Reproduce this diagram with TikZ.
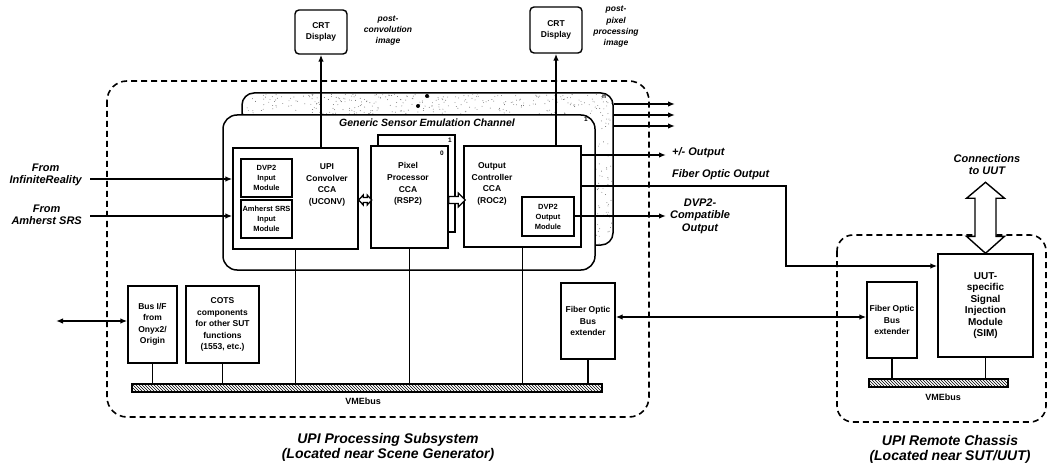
\documentclass[tikz,border=0pt]{standalone}
\usepackage{fontspec}
\setmainfont{Liberation Sans}
\usetikzlibrary{arrows.meta,patterns}
\begin{document}
\begin{tikzpicture}[x=1pt,y=-1pt,
  box/.style={draw, line width=1.4pt, fill=white, inner sep=0pt, align=center,
    font=\bfseries\fontsize{8.5}{11.5}\selectfont},
  sbox/.style={box, line width=1.2pt, font=\bfseries\fontsize{7.5}{10}\selectfont},
  txt/.style={inner sep=0pt, align=center, font=\bfseries\fontsize{8.5}{11.7}\selectfont},
  lbl/.style={inner sep=0pt, align=center, font=\bfseries\itshape\fontsize{11}{12}\selectfont},
  ttl/.style={inner sep=0pt, align=center, font=\bfseries\itshape\fontsize{14}{15}\selectfont},
  digit/.style={inner sep=0pt, font=\bfseries\fontsize{6.5}{7}\selectfont},
  card/.style={draw, line width=1.5pt, fill=white, inner sep=0pt},
  conn/.style={line width=1.6pt},
  arr/.style={conn, -{Latex[length=7pt,width=5.5pt]}},
  darr/.style={conn, {Latex[length=7pt,width=5.5pt]}-{Latex[length=7pt,width=5.5pt]}},
  dbox/.style={dash pattern=on 6pt off 4pt, line width=1.6pt},
  bus/.style={draw, line width=1.3pt, pattern=north west lines, inner sep=0pt},
  hollow/.style={line width=1.2pt, fill=white}
]
\useasboundingbox (0,0) rectangle (1049,465);

% outer dashed subsystem boxes
\draw[dbox, rounded corners=20pt] (107,81) rectangle (649,417);
\draw[dbox, rounded corners=16pt] (837,235) rectangle (1046,422);

% CRT displays
\node[box, minimum width=52pt, minimum height=44pt, rounded corners=4pt] (crt1) at (321,32) {CRT\\Display};
\node[box, minimum width=52pt, minimum height=46pt, rounded corners=4pt] (crt2) at (556,30) {CRT\\Display};
\node[lbl, font=\bfseries\itshape\fontsize{8.5}{11}\selectfont] (pc) at (388,31) {post-\\convolution\\image};
\node[lbl, font=\bfseries\itshape\fontsize{8.5}{11.3}\selectfont] (ppi) at (616,27) {post-\\pixel\\processing\\image};

% stippled back card (channel n)
\node[card, minimum width=371pt, minimum height=152pt, rounded corners=12pt] (stip) at (427.5,169) {};
\begin{scope}
  \clip[rounded corners=12pt] (243,94) rectangle (612,244);
  \pgfmathsetseed{7}
  \foreach \i in {1,...,2200}{
    \fill[black!60] ({243+369*rnd},{94+150*rnd}) circle (0.45pt);
  }
\end{scope}
\fill (427,96) circle (2pt);
\fill (418,106) circle (2pt);
\node[digit] (dn) at (604,97) {n};

% front card
\node[card, minimum width=372pt, minimum height=155pt, rounded corners=14pt] (chan) at (409,192.5) {};
\node[inner sep=0pt, font=\bfseries\itshape\fontsize{10.5}{12}\selectfont] (chlbl) at (427,123) {Generic Sensor Emulation Channel};
\node[digit] (d1c) at (586,119) {1};

% convolver
\node[box, minimum width=125pt, minimum height=101pt] (conv) at (295.5,198.5) {};
\node[txt] (convt) at (327,185) {UPI\\Convolver\\CCA\\(UCONV)};
\node[sbox, minimum width=51pt, minimum height=38pt] (dvpin) at (266.5,178) {DVP2\\Input\\Module};
\node[sbox, minimum width=51pt, minimum height=38pt] (amin) at (266.5,219) {Amherst SRS\\Input\\Module};

% pixel processor
\node[box, minimum width=77pt, minimum height=97pt] (pixb) at (416.5,183.5) {};
\node[digit] (d1p) at (450,140) {1};
\node[box, minimum width=77pt, minimum height=102pt] (pix) at (409.5,197) {};
\node[txt] (pixt) at (408,184) {Pixel\\Processor\\CCA\\(RSP2)};
\node[digit] (d0) at (442,153) {0};

% output controller
\node[box, minimum width=117pt, minimum height=101pt] (occ) at (522.5,196.5) {};
\node[txt] (occt) at (492,184) {Output\\Controller\\CCA\\(ROC2)};
\node[sbox, minimum width=52pt, minimum height=39pt] (dvpout) at (548,216.5) {DVP2\\Output\\Module};

% hollow arrows between CCAs
\draw[hollow] (conv.east |- 0,200) -- ++(4.5,-5) -- ++(0,2.5) -- ++(4,0) -- ++(0,-2.5)
  -- ++(4.5,5) -- ++(-4.5,5) -- ++(0,-2.5) -- ++(-4,0) -- ++(0,2.5) -- cycle;
\draw[hollow] (pix.east |- 0,196.5) -- ++(9.5,0) -- ++(0,-3.5) -- ++(7,7) -- ++(-7,7)
  -- ++(0,-3.5) -- ++(-9.5,0) -- cycle;

% CRT arrows
\draw[arr] (conv.north -| crt1.south) -- (crt1.south);
\draw[arr] (occ.north -| crt2.south) -- (crt2.south);

% inputs
\node[lbl, anchor=east] (fir) at (82,174.5) {From\\InfiniteReality};
\node[lbl, anchor=east] (fam) at (82,215) {From\\Amherst SRS};
\coordinate (irs) at (90,179);
\coordinate (ams) at (90,216);
\draw[arr] (irs) -- (irs -| conv.west);
\draw[arr] (ams) -- (ams -| conv.west);

% channel outputs
\coordinate (o1) at (675,104);
\coordinate (o2) at (675,115);
\coordinate (o3) at (675,126);
\draw[arr] (o1 -| stip.east) -- (o1);
\draw[arr] (o2 -| stip.east) -- (o2);
\draw[arr] (o3 -| stip.east) -- (o3);

\coordinate (pm) at (666,155);
\draw[arr] (pm -| occ.east) -- (pm);
\node[lbl, anchor=west] (pmt) at (672,153) {+/- Output};

\coordinate (fo1) at (786,186);
\coordinate (fo2) at (786,266);
\node[lbl, anchor=west] (fot) at (672,175) {Fiber Optic Output};

\coordinate (dc) at (666,216);
\draw[arr] (dc -| dvpout.east) -- (dc);
\node[lbl, font=\bfseries\itshape\fontsize{11}{12.5}\selectfont] (dct) at (700,216) {DVP2-\\Compatible\\Output};

% lower modules
\node[box, minimum width=49pt, minimum height=77pt] (busif) at (152.5,324.5) {Bus I/F\\from\\Onyx2/\\Origin};
\node[box, minimum width=73pt, minimum height=77pt] (cots) at (222.5,324.5) {COTS\\components\\for other SUT\\functions\\(1553, etc.)};
\node[box, minimum width=54pt, minimum height=76pt] (fobe1) at (588,321) {Fiber Optic\\Bus\\extender};
\coordinate (vtop) at (0,384);

\draw[conn] (busif.south) -- (busif.south |- vtop);
\draw[conn] (cots.south) -- (cots.south |- vtop);
\draw[conn] (conv.south) -- (conv.south |- vtop);
\draw[conn] (pix.south) -- (pix.south |- vtop);
\draw[conn] (occ.south) -- (occ.south |- vtop);
\draw[conn] (fobe1.south) -- (fobe1.south |- vtop);

\node[bus, minimum width=470pt, minimum height=8pt] (vme1) at (367,388) {};
\node[inner sep=0pt, font=\bfseries\fontsize{9}{10}\selectfont] (vmel1) at (363,401) {VMEbus};

\coordinate (ext) at (56,321);
\draw[darr] (ext) -- (ext -| busif.west);

% remote chassis
\node[box, minimum width=95pt, minimum height=103pt, font=\bfseries\fontsize{10}{11.5}\selectfont] (sim) at (985.5,305.5) {UUT-\\specific\\Signal\\Injection\\Module\\(SIM)};
\node[box, minimum width=50pt, minimum height=76pt] (fobe2) at (892,320) {Fiber Optic\\Bus\\extender};
\coordinate (vtop2) at (0,379);
\draw[conn] (fobe2.south) -- (fobe2.south |- vtop2);
\draw[conn] (sim.south) -- (sim.south |- vtop2);
\node[bus, minimum width=139pt, minimum height=8pt] (vme2) at (938.5,383) {};
\node[inner sep=0pt, font=\bfseries\fontsize{9}{10}\selectfont] (vmel2) at (943,397) {VMEbus};

\draw[darr] (fobe1.east |- 0,317) -- (fobe2.west |- 0,317);
\draw[arr] (fo1 -| occ.east) -- (fo1) -- (fo2) -- (fo2 -| sim.west);

% connections to UUT
\draw[line width=1.4pt, fill=white] (sim.north) -- ++(-19,-17) -- ++(8.5,0) -- ++(0,-38)
  -- ++(-8.5,0) -- ++(19,-16) -- ++(19,16) -- ++(-8.5,0) -- ++(0,38) -- ++(8.5,0) -- cycle;
\node[lbl] (cu) at (987,165) {Connections\\to UUT};

% titles
\node[ttl] (t1) at (388,447.5) {UPI Processing Subsystem\\(Located near Scene Generator)};
\node[ttl] (t2) at (950,449.5) {UPI Remote Chassis\\(Located near SUT/UUT)};
\end{tikzpicture}
\end{document}
